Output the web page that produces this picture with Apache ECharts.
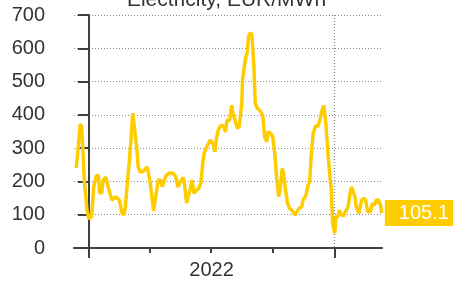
<!DOCTYPE html>
<html>
<head>
<meta charset="utf-8">
<script src="https://cdn.jsdelivr.net/npm/echarts@6/dist/echarts.min.js"></script>
<style>
  html, body { margin: 0; padding: 0; background: #fff; }
  #chart { width: 453px; height: 285px; }
</style>
</head>
<body>
<div id="chart"></div>
<script>
// days counted from 1 Jan 2022, price in EUR/MWh
var days = [-19, -16, -13, -11, -9, -7, -3, 0, 4, 7, 11, 14, 16, 19, 21, 25, 29, 31, 34, 36,
  40, 42, 45, 49, 52, 54, 57, 60, 62, 65, 67, 71, 73, 76, 79, 82, 86, 88, 91, 94,
  96, 99, 103, 106, 109, 112, 115, 120, 125, 129, 132, 134, 137, 140, 142, 145, 147, 150, 153, 156,
  160, 163, 166, 169, 171, 175, 180, 184, 187, 189, 192, 195, 199, 203, 205, 209, 212, 214, 217, 220,
  223, 227, 228, 230, 233, 235, 237, 240, 242, 245, 247, 250, 254, 258, 261, 264, 266, 270, 273, 276,
  279, 282, 285, 287, 289, 292, 295, 298, 302, 306, 308, 312, 316, 318, 322, 325, 328, 330, 333, 337,
  340, 343, 346, 349, 352, 355, 358, 360, 362, 365, 367, 370, 372, 375, 378, 381, 385, 387, 390, 392,
  395, 397, 401, 405, 408, 411, 414, 418, 421, 424, 427, 430, 433, 435]
var prices = [240, 304, 372, 365, 290, 204, 114, 87, 94, 184, 219, 216, 165, 165, 204, 213, 180, 175, 144, 140,
  154, 160, 144, 105, 99, 124, 195, 264, 315, 405, 410, 300, 244, 229, 229, 233, 244, 229, 195, 144,
  112, 154, 204, 204, 184, 204, 219, 226, 224, 214, 183, 183, 204, 212, 189, 135, 135, 174, 204, 164,
  174, 179, 194, 254, 284, 304, 324, 314, 289, 324, 354, 366, 369, 349, 384, 384, 429, 404, 384, 360,
  364, 434, 505, 535, 575, 585, 635, 647, 640, 545, 434, 420, 412, 400, 334, 319, 349, 344, 334, 284,
  204, 154, 194, 239, 224, 174, 134, 119, 112, 99, 102, 119, 124, 144, 156, 184, 204, 274, 344, 369,
  364, 384, 412, 428, 370, 284, 214, 174, 74, 44, 94, 94, 114, 99, 96, 109, 124, 154, 184, 184,
  154, 124, 104, 144, 149, 144, 109, 109, 134, 129, 144, 144, 129, 105.1]
var yearTicks = [0, 365]
var quarterTicks = [90, 181, 273]
var yearLabels = [182]
var lastLabel = '105.1'

var seriesData = days.map(function (d, i) { return [d, prices[i]] })

var axisColor = '#404040'
var textColor = '#333333'
var gridColor = '#888888'
var fontName = 'Liberation Sans'

var chart = echarts.init(document.getElementById('chart'))
chart.setOption({
  animation: false,
  backgroundColor: '#ffffff',
  title: {
    text: 'Electricity, EUR/MWh',
    left: 'center',
    top: -15,
    textStyle: { fontFamily: fontName, fontSize: 21, fontWeight: 'normal', color: textColor }
  },
  grid: { left: 74, right: 71, top: 15, bottom: 37 },
  xAxis: [{
    type: 'value',
    min: -22.3,
    max: 435.3,
    axisLine: { show: true, lineStyle: { color: axisColor, width: 2 } },
    axisTick: { show: true, length: 10, customValues: yearTicks, lineStyle: { color: axisColor, width: 2 } },
    axisLabel: {
      customValues: yearLabels,
      formatter: function () { return '2022' },
      margin: 12,
      fontFamily: fontName,
      fontSize: 20,
      color: textColor
    },
    splitLine: { show: true, lineStyle: { color: gridColor, type: [1, 2], width: 1.2 } }
  }, {
    // second axis only for the short quarter ticks
    type: 'value',
    position: 'top',
    offset: -233,
    min: -22.3,
    max: 435.3,
    axisLine: { show: false },
    axisTick: { show: true, inside: true, length: 5, customValues: quarterTicks, lineStyle: { color: axisColor, width: 2 } },
    axisLabel: { show: false },
    splitLine: { show: false }
  }],
  yAxis: {
    type: 'value',
    min: 0,
    max: 700,
    interval: 100,
    axisLine: { show: true, lineStyle: { color: axisColor, width: 2 } },
    axisTick: { show: true, length: 11, lineStyle: { color: axisColor, width: 2 } },
    axisLabel: { margin: 29, fontFamily: fontName, fontSize: 20, color: textColor },
    splitLine: { show: true, lineStyle: { color: gridColor, type: [1, 2], width: 1.2 } }
  },
  series: [{
    type: 'line',
    data: seriesData,
    showSymbol: false,
    symbol: 'none',
    lineStyle: { color: '#FFCC00', width: 3.5 },
    endLabel: {
      show: true,
      formatter: lastLabel,
      distance: 3,
      color: '#ffffff',
      backgroundColor: '#FFCC00',
      fontFamily: fontName,
      fontSize: 20,
      padding: [3, 6, 3, 14]
    }
  }]
})
</script>
</body>
</html>
